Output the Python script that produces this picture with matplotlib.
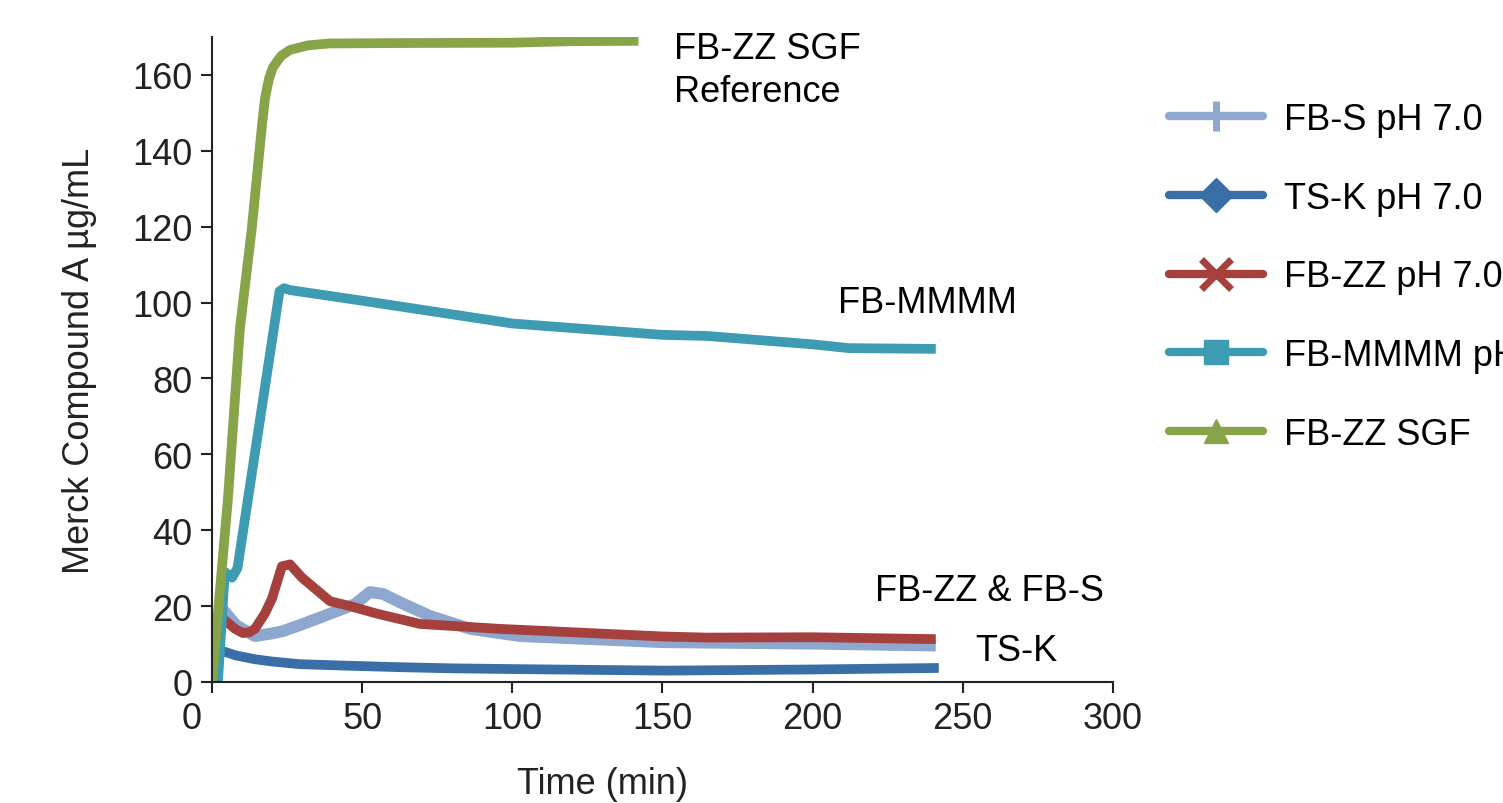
import matplotlib
matplotlib.use("Agg")
import matplotlib.pyplot as plt
import matplotlib.transforms as mtransforms
from matplotlib.lines import Line2D

plt.rcParams['font.family'] = ['Liberation Sans', 'DejaVu Sans']

# Werte (Zeit in min, Konzentration in µg/mL)
fbs_t = [2.7, 8, 14.3, 20, 23.6, 30, 39, 47.6, 52.6, 57, 62.6, 72.6, 86, 102.6, 150, 200, 241]
fbs_y = [20, 15, 12.1, 12.8, 13.4, 15.2, 17.9, 20.5, 23.7, 23.2, 21, 17.4, 14, 12.1, 10.5, 10.1, 9.6]

tsk_t = [3.3, 8, 14.3, 20, 29.3, 45, 62.6, 80, 100.9, 151, 200, 242]
tsk_y = [8.2, 7.0, 6.0, 5.4, 4.7, 4.3, 3.9, 3.6, 3.4, 3.0, 3.3, 3.7]

fbzz_t = [1, 4, 7.7, 10.3, 12.5, 14.3, 17.6, 20, 23.3, 26, 30, 39.3, 46, 55, 69.3, 96, 150, 165, 200, 241]
fbzz_y = [18.4, 16.5, 14, 12.9, 13.1, 14, 18, 22, 30.5, 31, 27.5, 21.3, 20, 18, 15.3, 14, 12, 11.7, 11.8, 11.3]

fbm_t = [2, 4.3, 6.7, 8.5, 22.5, 24, 26, 50, 75, 100, 125, 150, 165, 200, 212, 241]
fbm_y = [0, 29, 27.5, 30, 103, 103.8, 103.3, 100.5, 97.5, 94.5, 93, 91.5, 91.2, 89, 88, 87.8]

sgf_t = [0, 5.3, 9.3, 13.2, 16.7, 17.7, 19, 20.3, 23, 26, 32, 39, 60, 100, 120, 142]
sgf_y = [0, 48, 93, 119, 147, 154, 159, 162, 165, 166.6, 167.8, 168.3, 168.4, 168.5, 168.9, 169]

series_names = ["FB-S pH 7.0", "TS-K pH 7.0", "FB-ZZ pH 7.0", "FB-MMMM pH 7.0", "FB-ZZ SGF"]
series_colors = ["#8DA7CF", "#3A6EA7", "#A6403D", "#3E9CB2", "#87A548"]
series_markers = ["+", "D", "x", "s", "^"]

x_ticks = [0, 50, 100, 150, 200, 250, 300]
y_ticks = [0, 20, 40, 60, 80, 100, 120, 140, 160]

fig = plt.figure(figsize=(15.03, 8.04), dpi=100)
ax = fig.add_axes([0.141, 0.1505, 0.5995, 0.8022])

data = [(fbs_t, fbs_y), (tsk_t, tsk_y), (fbzz_t, fbzz_y), (fbm_t, fbm_y), (sgf_t, sgf_y)]
widths = [8.5, 7, 7, 7, 7]
for (t, y), c, lw in zip(data, series_colors, widths):
    ax.plot(t, y, color=c, lw=lw, solid_joinstyle='round', solid_capstyle='butt')

ax.set_xlim(0, 300)
ax.set_ylim(0, 170)
ax.set_xticks(x_ticks)
ax.set_yticks(y_ticks)
ax.tick_params(labelsize=26, length=8, width=1.5, direction='out', colors='#222222', pad=6)
for s in ['top', 'right']:
    ax.spines[s].set_visible(False)
for s in ['left', 'bottom']:
    ax.spines[s].set_linewidth(1.5)
    ax.spines[s].set_color('#222222')

# die "0" an der x-Achse sitzt im Original etwas weiter links
lbl0 = ax.get_xticklabels()[0]
lbl0.set_transform(lbl0.get_transform() + mtransforms.ScaledTranslation(-0.2, 0, fig.dpi_scale_trans))

ax.set_xlabel("Time (min)", fontsize=26, color='#222222', va='center')
ax.xaxis.set_label_coords(0.433, -0.158)
ax.set_ylabel("Merck Compound A µg/mL", fontsize=26, color='#222222', va='center')
ax.yaxis.set_label_coords(-0.1465, 0.5)

# Beschriftungen an den Kurven
ax.text(154, 161.3, "FB-ZZ SGF\nReference", fontsize=26, va='center', ha='left', linespacing=1.28)
ax.text(208.5, 100, "FB-MMMM", fontsize=26, va='center', ha='left')
ax.text(220.8, 24, "FB-ZZ & FB-S", fontsize=26, va='center', ha='left')
ax.text(254, 8.4, "TS-K", fontsize=26, va='center', ha='left')

# Legende mit Markern (nur in der Legende)
handles = []
for n, c, m in zip(series_names, series_colors, series_markers):
    ms = 22 if m in ['+', 'x'] else 17
    mew = 5 if m in ['+', 'x'] else 1
    handles.append(Line2D([], [], color=c, lw=6, marker=m, markersize=ms,
                          markeredgewidth=mew, markerfacecolor=c, markeredgecolor=c,
                          solid_capstyle='round', label=n))
fig.legend(handles=handles, loc='upper left', bbox_to_anchor=(0.768, 0.89),
           frameon=False, fontsize=26, handlelength=2.6, handletextpad=0.6,
           labelspacing=1.21, borderaxespad=0)

fig.savefig("out.png", dpi=100)
